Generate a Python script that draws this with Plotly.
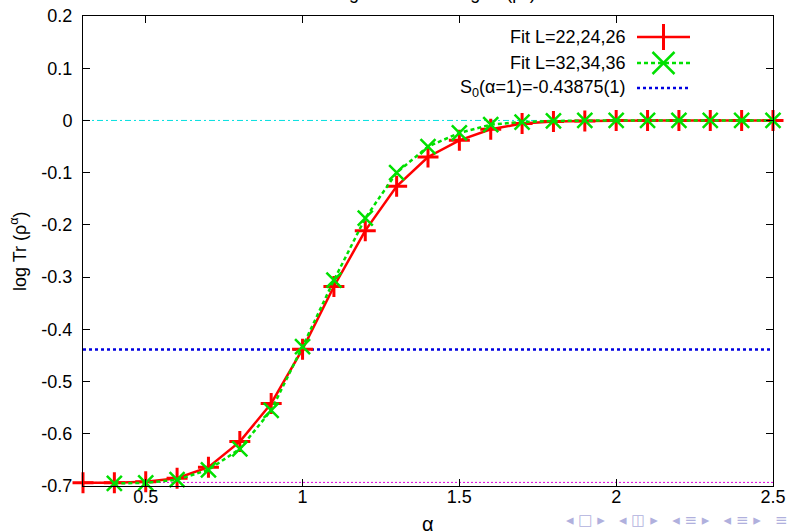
import plotly.graph_objects as go

# ---- data ----
alpha_a = [0.3, 0.4, 0.5, 0.6, 0.7, 0.8, 0.9, 1.0, 1.1, 1.2, 1.3, 1.4, 1.5, 1.6, 1.7,
           1.8, 1.9, 2.0, 2.1, 2.2, 2.3, 2.4, 2.5]
fit_a = [-0.694, -0.694, -0.692, -0.685, -0.664, -0.615, -0.542, -0.438, -0.318, -0.211,
         -0.126, -0.070, -0.038, -0.017, -0.006, -0.002, -0.001, 0.0, 0.0, 0.0, 0.0, 0.0, 0.0]
alpha_b = [0.4, 0.5, 0.6, 0.7, 0.8, 0.9, 1.0, 1.1, 1.2, 1.3, 1.4, 1.5, 1.6, 1.7,
           1.8, 1.9, 2.0, 2.1, 2.2, 2.3, 2.4, 2.5]
fit_b = [-0.695, -0.694, -0.688, -0.669, -0.629, -0.555, -0.433, -0.306, -0.187, -0.100,
         -0.050, -0.024, -0.008, -0.003, -0.001, 0.0, 0.0, 0.0, 0.0, 0.0, 0.0, 0.0]
x_range = [0.3, 2.5]
s0_value = -0.43875
zero_level = 0.0
log2_level = -0.6931
legend_labels = ["Fit L=22,24,26", "Fit L=32,34,36", "S<sub>0</sub>(α=1)=-0.43875(1)"]
x_ticks = [0.5, 1, 1.5, 2, 2.5]
y_ticks = [0.2, 0.1, 0, -0.1, -0.2, -0.3, -0.4, -0.5, -0.6, -0.7]

# ---- layout geometry (pixels) ----
W, H = 791, 532
L, R, T, B = 83, 773, 16, 486
PW, PH = R - L, B - T


def px(x):
    return (x - L) / PW


def py(y):
    return (B - y) / PH


FONT = "Liberation Sans, Arial, sans-serif"
FS = 18
RED = "#ff0000"
GREEN = "#00e000"
BLUE = "#0000e0"
CYAN = "#00e0e0"
MAGENTA = "#e000e0"

fig = go.Figure()

# reference lines
fig.add_trace(go.Scatter(x=x_range, y=[zero_level] * 2, mode="lines",
                         line=dict(color=CYAN, width=1, dash="6px,3px,2px,3px"),
                         showlegend=False, hoverinfo="skip"))
fig.add_trace(go.Scatter(x=x_range, y=[log2_level] * 2, mode="lines",
                         line=dict(color=MAGENTA, width=1, dash="2px,2px"),
                         showlegend=False, hoverinfo="skip"))
fig.add_trace(go.Scatter(x=x_range, y=[s0_value] * 2, mode="lines",
                         line=dict(color=BLUE, width=2.5, dash="3px,3px"),
                         showlegend=False, hoverinfo="skip"))

# data series
fig.add_trace(go.Scatter(x=alpha_a, y=fit_a, mode="lines+markers",
                         line=dict(color=RED, width=2.5),
                         marker=dict(symbol="cross-thin", size=15,
                                     line=dict(color=RED, width=3)),
                         showlegend=False, cliponaxis=False))
fig.add_trace(go.Scatter(x=alpha_b, y=fit_b, mode="lines+markers",
                         line=dict(color=GREEN, width=2.5, dash="4px,3px"),
                         marker=dict(symbol="x-thin", size=15,
                                     line=dict(color=GREEN, width=2.5)),
                         showlegend=False, cliponaxis=False))

shapes = []
annotations = []

# custom legend (text right-aligned, sample on the right, gnuplot style)
rows_y = [37, 63, 88]
text_right = 628
s_x0, s_x1 = 637, 690
s_mid = (s_x0 + s_x1) / 2
for i, lab in enumerate(legend_labels):
    annotations.append(dict(x=px(text_right), y=py(rows_y[i]), xref="paper", yref="paper",
                            text=lab, showarrow=False, xanchor="right", yanchor="middle",
                            font=dict(family=FONT, size=FS, color="black")))
# red sample
shapes.append(dict(type="line", xref="paper", yref="paper", x0=px(s_x0), x1=px(s_x1),
                   y0=py(rows_y[0]), y1=py(rows_y[0]), line=dict(color=RED, width=2.5)))
shapes.append(dict(type="line", xref="paper", yref="paper", x0=px(s_mid), x1=px(s_mid),
                   y0=py(rows_y[0] - 13), y1=py(rows_y[0] + 13), line=dict(color=RED, width=3)))
# green sample
shapes.append(dict(type="line", xref="paper", yref="paper", x0=px(s_x0), x1=px(s_x1),
                   y0=py(rows_y[1]), y1=py(rows_y[1]), line=dict(color=GREEN, width=2.5, dash="4px,3px")))
for d in (-1, 1):
    shapes.append(dict(type="line", xref="paper", yref="paper",
                       x0=px(s_mid - 11), x1=px(s_mid + 11),
                       y0=py(rows_y[1] - 11 * d), y1=py(rows_y[1] + 11 * d),
                       line=dict(color=GREEN, width=2.5)))
# blue sample
shapes.append(dict(type="line", xref="paper", yref="paper", x0=px(s_x0), x1=px(s_x1),
                   y0=py(rows_y[2]), y1=py(rows_y[2]), line=dict(color=BLUE, width=2.5, dash="3px,3px")))

# title (cut off at top of frame, as in the reference)
annotations.append(dict(x=px(402), y=py(5), xref="paper", yref="paper",
                        text="Subleading constant in log Tr (ρ<sup>α</sup>)", showarrow=False,
                        xanchor="center", yanchor="bottom",
                        font=dict(family=FONT, size=FS, color="black")))
# axis titles
annotations.append(dict(x=px(18), y=0.5, xref="paper", yref="paper",
                        text="log Tr (ρ<sup>α</sup>)", showarrow=False, textangle=-90,
                        xanchor="center", yanchor="middle",
                        font=dict(family=FONT, size=FS, color="black")))
annotations.append(dict(x=0.5, y=py(524), xref="paper", yref="paper",
                        text="α", showarrow=False, xanchor="center", yanchor="middle",
                        font=dict(family=FONT, size=20, color="black")))
# beamer navigation symbols
annotations.append(dict(x=px(790), y=py(520), xref="paper", yref="paper",
                        text="◂\u00a0□\u00a0▸\u00a0\u00a0\u00a0◂\u00a0◫\u00a0▸\u00a0\u00a0\u00a0◂\u00a0≡\u00a0▸\u00a0\u00a0\u00a0◂\u00a0≡\u00a0▸\u00a0\u00a0\u00a0≡",
                        showarrow=False, xanchor="right", yanchor="middle",
                        font=dict(family="DejaVu Sans", size=15, color="#b0b0dd")))

axis_common = dict(showgrid=False, zeroline=False, showline=True, linecolor="black",
                   linewidth=1, mirror="ticks", ticks="inside", ticklen=7,
                   tickcolor="black", tickwidth=1, automargin=False,
                   tickfont=dict(family=FONT, size=FS, color="black"))

fig.update_layout(
    width=W, height=H,
    margin=dict(l=L, r=W - R, t=T, b=H - B, autoexpand=False),
    paper_bgcolor="white", plot_bgcolor="white",
    xaxis=dict(range=x_range, tickvals=x_ticks, ticklabelstandoff=-6,
               ticktext=["0.5", "1", "1.5", "2", "2.5"], **axis_common),
    yaxis=dict(range=[-0.7, 0.2], tickvals=y_ticks, ticklabelstandoff=6,
               ticktext=[f"{v:g}" for v in y_ticks], **axis_common),
    shapes=shapes, annotations=annotations,
    showlegend=False,
)

fig.write_html("out.html", config={"displayModeBar": False},
               post_script="document.body.style.margin='0';document.body.style.overflow='hidden';")
